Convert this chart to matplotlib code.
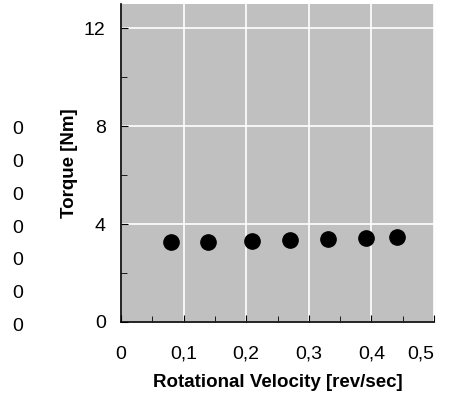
import numpy as np
import matplotlib.pyplot as plt

plt.rcParams['font.family'] = ['Liberation Sans', 'DejaVu Sans']

velocidade = [0.080, 0.139, 0.209, 0.270, 0.331, 0.391, 0.441]
torque = [3.28, 3.29, 3.32, 3.35, 3.38, 3.42, 3.47]
x_ticks = [0, 0.1, 0.2, 0.3, 0.4, 0.5]
x_labels = ['0', '0,1', '0,2', '0,3', '0,4', '0,5']
y_ticks = [0, 4, 8, 12]
y_labels = ['0', '4', '8', '12']
zeros_coluna = ['0', '0', '0', '0', '0', '0', '0']

fig = plt.figure(figsize=(4.54, 3.94), dpi=100)
ax = fig.add_axes([121 / 454, 1 - 322 / 394, 313 / 454, 318 / 394])
ax.set_facecolor('#c0c0c0')

ax.scatter(velocidade, torque, s=11 ** 2, color='black', zorder=3)

ax.set_xlim(0, 0.5)
ax.set_ylim(0, 13)
ax.set_xticks(x_ticks)
ax.set_xticklabels(x_labels)
ax.set_yticks(y_ticks)
ax.set_yticklabels(y_labels)
ax.set_xticks(np.arange(0.05, 0.5, 0.1), minor=True)
ax.set_yticks([2, 6, 10], minor=True)
ax.grid(True, which='major', color='white', linewidth=1.2)
ax.set_axisbelow(True)

for lado in ['top', 'right']:
    ax.spines[lado].set_visible(False)
for lado in ['left', 'bottom']:
    ax.spines[lado].set_linewidth(1.2)

ax.tick_params(axis='both', which='both', direction='in', labelsize=14)
ax.tick_params(axis='both', which='major', length=5)
ax.tick_params(axis='both', which='minor', length=4)
ax.tick_params(axis='x', which='major', pad=17)
ax.tick_params(axis='y', which='major', pad=11)
# ultimo rotulo encostado na borda
ax.get_xticklabels()[-1].set_horizontalalignment('right')
ax.get_xticklabels()[-1].set_x(0.5)

ax.set_xlabel('Rotational Velocity [rev/sec]', fontsize=13.5, fontweight='bold', labelpad=8)
ax.set_ylabel('Torque [Nm]', fontsize=13.5, fontweight='bold', labelpad=4)

# coluna de zeros na esquerda
for i, z in enumerate(zeros_coluna):
    fig.text(17.5 / 454, 1 - (130 + i * 32.7) / 394, z, fontsize=14,
             ha='center', va='center')

plt.savefig('out.png', dpi=100)
